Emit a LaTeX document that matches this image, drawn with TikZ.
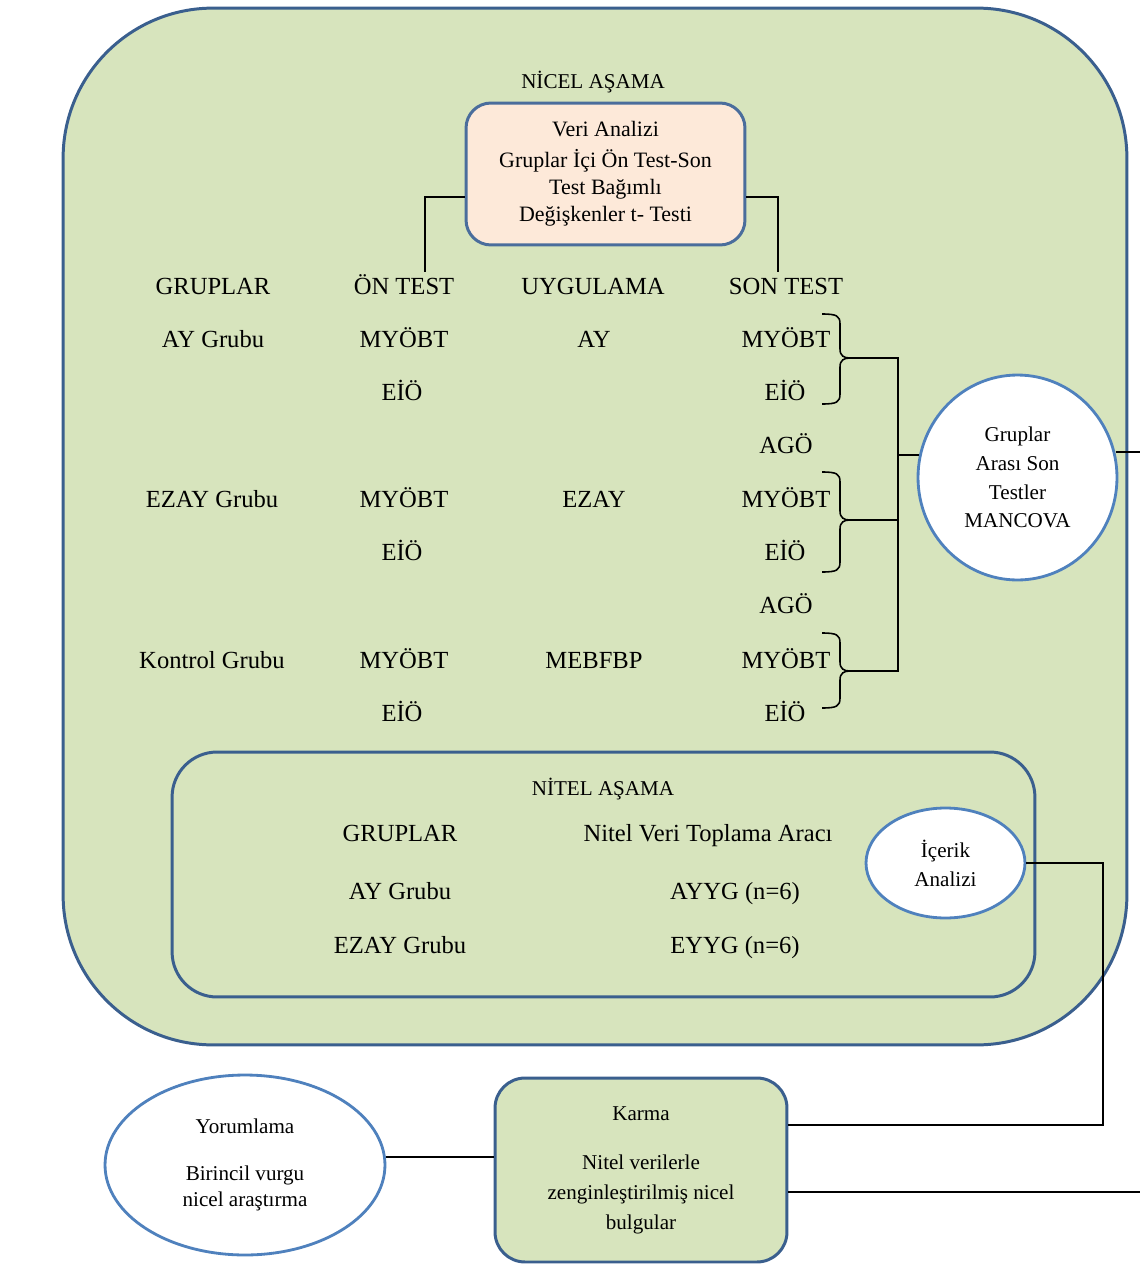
\documentclass[tikz,border=0pt]{standalone}
\usepackage{fontspec}
\setmainfont{Liberation Serif}
\usetikzlibrary{shapes.geometric}
\definecolor{gfill}{HTML}{D7E4BD}
\definecolor{bdark}{HTML}{3A5F8E}
\definecolor{bmid}{HTML}{4F81BD}
\definecolor{bveri}{HTML}{4A6D9C}
\definecolor{peach}{HTML}{FDE9D9}
\begin{document}
\begin{tikzpicture}[x=0.02cm,y=-0.02cm,
  tx/.style={font=\fontsize{14}{16}\selectfont, anchor=base, inner sep=0pt},
  sx/.style={font=\fontsize{12}{14}\selectfont, anchor=base, inner sep=0pt},
  panel/.style={rectangle, draw=bdark, line width=1.7pt, fill=gfill, inner sep=0pt},
  oval/.style={ellipse, draw=bmid, line width=1.6pt, fill=white, inner sep=0pt, align=center, font=\fontsize{12}{16.4}\selectfont},
  conn/.style={draw=black, line width=0.9pt}]
\useasboundingbox (0,0) rectangle (1140,1264);
\fill[white] (0,0) rectangle (1140,1264);

% panels
\node[panel, rounded corners=3cm, minimum width=21.28cm, minimum height=20.74cm] (outer) at (595,526.5) {};
\node[panel, draw=bveri, fill=peach, rounded corners=0.5cm, minimum width=5.58cm, minimum height=2.84cm, align=center, font=\fontsize{12.5}{15.5}\selectfont] (veri) at (605.5,174) {Veri Analizi\\[2pt] Gruplar İçi Ön Test-Son\\ Test Bağımlı\\ Değişkenler t- Testi};
\node[panel, rounded corners=0.9cm, minimum width=17.26cm, minimum height=4.9cm] (nitel) at (603.5,874.5) {};
\node[panel, rounded corners=0.6cm, minimum width=5.84cm, minimum height=3.68cm, align=center, font=\fontsize{12}{17}\selectfont] (karma) at (641,1170) {Karma\\[11pt] Nitel verilerle\\ zenginleştirilmiş nicel\\ bulgular};

% titles
\node[sx] (nicelT) at (593,89) {NİCEL AŞAMA};
\node[sx] (nitelT) at (603,795) {NİTEL AŞAMA};

% table
\node[tx] (hGr) at (213,294) {GRUPLAR};
\node[tx] (hOn) at (404,294) {ÖN TEST};
\node[tx] (hUy) at (593,294) {UYGULAMA};
\node[tx] (hSon) at (786,294) {SON TEST};

\node[tx] (g1) at (213,347) {AY Grubu};
\node[tx] (o1a) at (404,347) {MYÖBT};
\node[tx] (u1) at (594,347) {AY};
\node[tx] (s1a) at (786,347) {MYÖBT};
\node[tx] (o1b) at (402,400) {EİÖ};
\node[tx] (s1b) at (785,400) {EİÖ};
\node[tx] (s1c) at (786,453) {AGÖ};

\node[tx] (g2) at (212,507) {EZAY Grubu};
\node[tx] (o2a) at (404,507) {MYÖBT};
\node[tx] (u2) at (594,507) {EZAY};
\node[tx] (s2a) at (786,507) {MYÖBT};
\node[tx] (o2b) at (402,560) {EİÖ};
\node[tx] (s2b) at (785,560) {EİÖ};
\node[tx] (s2c) at (786,613) {AGÖ};

\node[tx] (g3) at (212,668) {Kontrol Grubu};
\node[tx] (o3a) at (404,668) {MYÖBT};
\node[tx] (u3) at (594,668) {MEBFBP};
\node[tx] (s3a) at (786,668) {MYÖBT};
\node[tx] (o3b) at (402,721) {EİÖ};
\node[tx] (s3b) at (785,721) {EİÖ};

% nitel table
\node[tx] (nG) at (400,841) {GRUPLAR};
\node[tx] (nA) at (708,841) {Nitel Veri Toplama Aracı};
\node[tx] (nG1) at (400,899) {AY Grubu};
\node[tx] (nA1) at (735,899) {AYYG (n=6)};
\node[tx] (nG2) at (400,953) {EZAY Grubu};
\node[tx] (nA2) at (735,953) {EYYG (n=6)};

% ovals
\node[oval, minimum width=3.98cm, minimum height=4.1cm] (mancova) at (1017.5,477.5) {Gruplar\\ Arası Son\\ Testler\\ MANCOVA};
\node[oval, minimum width=3.18cm, minimum height=2.2cm] (icerik) at (945.5,863) {İçerik\\ Analizi};
\node[oval, minimum width=5.6cm, minimum height=3.6cm, font=\fontsize{12}{15}\selectfont] (yorum) at (245,1165) {Yorumlama\\[12pt] Birincil vurgu\\ nicel araştırma};

% connectors from Veri Analizi
\coordinate (onTop) at (425,272);
\coordinate (sonTop) at (778,272);
\draw[conn] ([yshift=-13pt]veri.west) -| (onTop);
\draw[conn] ([yshift=-13pt]veri.east) -| (sonTop);

% braces
\foreach \t/\m/\b [count=\i] in {314/358/404, 472/520/572, 633/671/708} {
  \draw[conn] (822,\t) .. controls (837,\t) and (840,\t+2) .. (840,\t+10) -- (840,\m-9)
    .. controls (840,\m-2) and (844,\m) .. (850,\m)
    .. controls (844,\m) and (840,\m+2) .. (840,\m+9) -- (840,\b-10)
    .. controls (840,\b-2) and (837,\b) .. (822,\b);
  \coordinate (tip\i) at (850,\m);
}
\coordinate (jTop) at (898,358);
\coordinate (jB2) at (898,520);
\coordinate (jBot) at (898,671);
\coordinate (jMid) at (898,455);
\draw[conn] (tip1) -- (jTop) -- (jBot) -- (tip3);
\draw[conn] (tip2) -- (jB2);
\draw[conn] (jMid) -- (jMid -| mancova.167);

% right side connectors
\coordinate (rE1) at (1140,452);
\draw[conn] (rE1 -| mancova.14) -- (rE1);
\coordinate (icC) at (1103,1125);
\draw[conn] (icerik.east) -| (icC) -- (icC -| karma.east);
\coordinate (rE2) at (1140,1192);
\draw[conn] (rE2 -| karma.east) -- (rE2);

% Yorumlama - Karma
\draw[conn] ([yshift=4.5pt]yorum.east) -- ([yshift=4.5pt]yorum.east -| karma.west);
\end{tikzpicture}
\end{document}
